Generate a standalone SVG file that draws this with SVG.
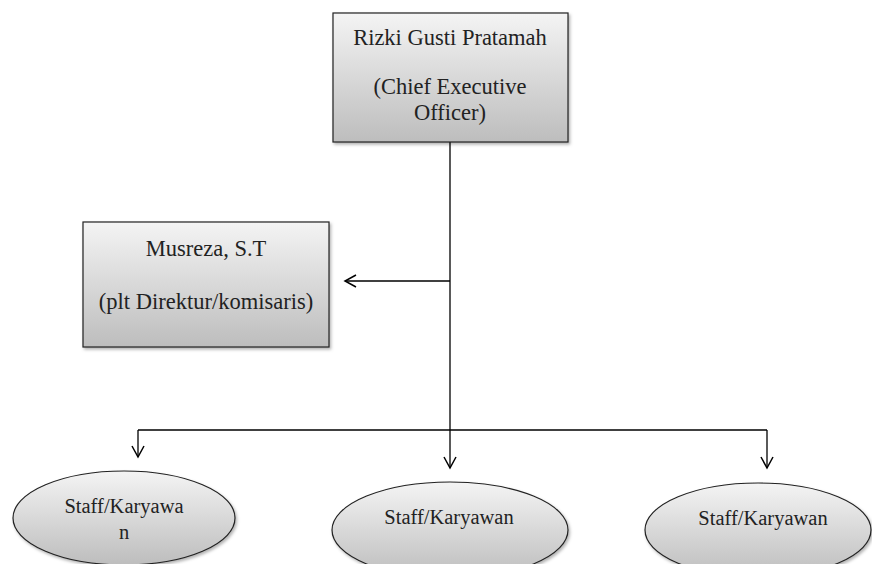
<svg xmlns="http://www.w3.org/2000/svg" width="872" height="564" viewBox="0 0 872 564">
<defs>
<linearGradient id="g" x1="0" y1="0" x2="0" y2="1">
<stop offset="0" stop-color="#f4f4f4"/>
<stop offset="1" stop-color="#bdbdbd"/>
</linearGradient>
<filter id="sh" x="-10%" y="-10%" width="120%" height="130%">
<feDropShadow dx="1.5" dy="2" stdDeviation="1.5" flood-color="#000" flood-opacity="0.3"/>
</filter>
<marker id="a" markerWidth="14" markerHeight="14" refX="12" refY="7" orient="auto" markerUnits="userSpaceOnUse">
<path d="M1,1 L12,7 L1,13" fill="none" stroke="#000" stroke-width="1.5"/>
</marker>
</defs>
<style>
.box{fill:url(#g);stroke:#222;stroke-width:1.2;filter:url(#sh)}
.t{font-family:"Liberation Serif","Times New Roman",serif;fill:#222;text-anchor:middle}
.b{font-size:22.5px}
.s{font-size:20.5px}
.c{fill:none;stroke:#000;stroke-width:1.3}
</style>
<rect width="872" height="564" fill="#fff"/>
<g id="connectors">
<line class="c" x1="450" y1="142" x2="450" y2="430"/>
<line class="c" x1="450" y1="281" x2="345" y2="281" marker-end="url(#a)"/>
<line class="c" x1="138" y1="430" x2="767" y2="430"/>
<line class="c" x1="138" y1="430" x2="138" y2="457" marker-end="url(#a)"/>
<line class="c" x1="450" y1="430" x2="450" y2="468" marker-end="url(#a)"/>
<line class="c" x1="767" y1="430" x2="767" y2="468" marker-end="url(#a)"/>
</g>
<g id="ceo">
<rect class="box" x="333" y="13" width="235" height="129"/>
<text class="t b" x="450" y="45">Rizki Gusti Pratamah</text>
<text class="t b" x="450" y="94">(Chief Executive</text>
<text class="t b" x="450" y="120">Officer)</text>
</g>
<g id="direktur">
<rect class="box" x="83" y="222" width="246" height="125"/>
<text class="t b" x="206" y="256">Musreza, S.T</text>
<text class="t b" x="206" y="309">(plt Direktur/komisaris)</text>
</g>
<g id="staff1">
<ellipse class="box" cx="124" cy="518" rx="111" ry="47"/>
<text class="t s" x="124" y="513">Staff/Karyawa</text>
<text class="t s" x="124" y="539">n</text>
</g>
<g id="staff2">
<ellipse class="box" cx="450" cy="530" rx="118" ry="48"/>
<text class="t s" x="449" y="524">Staff/Karyawan</text>
</g>
<g id="staff3">
<ellipse class="box" cx="758" cy="530" rx="113" ry="47"/>
<text class="t s" x="763" y="525">Staff/Karyawan</text>
</g>
</svg>
